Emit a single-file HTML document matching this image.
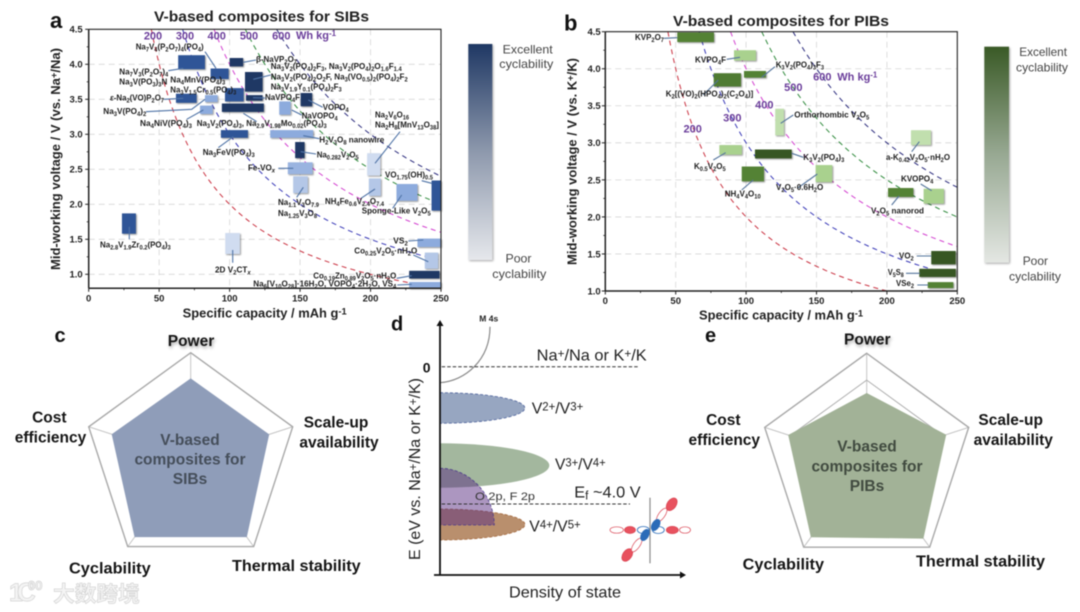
<!DOCTYPE html>
<html lang="en">
<head>
<meta charset="utf-8">
<title>V-based composites for SIBs and PIBs</title>
<style>
html,body{margin:0;padding:0;background:#fff;width:1080px;height:612px;overflow:hidden}
svg{display:block;font-family:"Liberation Sans",sans-serif}
#root{filter:blur(.4px)}
.l{font-size:8.5px;font-weight:700;fill:#1c1c1c}
.s{font-size:72%;baseline-shift:-1.6px}
.u{font-size:72%;baseline-shift:3px}
.tick{font-size:9.5px;font-weight:700;fill:#222}
.axt{font-size:12.5px;font-weight:700;fill:#222}
.title{font-size:15px;font-weight:700;fill:#222}
.pl{font-size:22px;font-weight:700;fill:#111}
.pl2{font-size:20px;font-weight:700;fill:#111}
.e{font-size:11px;font-weight:700;fill:#6a3d9a}
.cb{font-size:12px;fill:#444}
.rl{font-size:15.5px;font-weight:700;fill:#151515}
.rc{font-size:15.5px;font-weight:700;fill:#454e5a;text-anchor:middle}
.rc2{font-size:15.5px;font-weight:700;fill:#414b40;text-anchor:middle}
.d{font-size:16px;fill:#222}
.ls{stroke:#4f73a6;stroke-width:1.1;fill:none}
.lg{stroke:#54749c;stroke-width:1.1;fill:none}
</style>
</head>
<body>
<svg id="root" xmlns="http://www.w3.org/2000/svg" width="1080" height="612" viewBox="0 0 1080 612">
<defs>
<linearGradient id="gradBlue" x1="0" y1="0" x2="0" y2="1"><stop offset="0" stop-color="#1f3864"/><stop offset=".5" stop-color="#8e99ad"/><stop offset="1" stop-color="#e6e8ec"/></linearGradient>
<linearGradient id="gradGreen" x1="0" y1="0" x2="0" y2="1"><stop offset="0" stop-color="#3a5a26"/><stop offset=".5" stop-color="#98a993"/><stop offset="1" stop-color="#e4e7e3"/></linearGradient>
<clipPath id="clipA"><rect x="88.7" y="29.3" width="352.3" height="259"/></clipPath>
<clipPath id="clipB"><rect x="605.3" y="31.7" width="352" height="259.3"/></clipPath>
</defs>

<!-- Panel a -->
<g id="panel-a">
<text class="pl" x="50" y="28">a</text>
<text class="title" x="154" y="21.7" textLength="215" lengthAdjust="spacingAndGlyphs">V-based composites for SIBs</text>
<g id="sib-grid"></g>
<g id="sib-curves" clip-path="url(#clipA)"></g>
<g id="sib-bars"></g>
<g id="sib-axes"></g>
<g class="ls">
<path d="M205 51.7L216 68.3M168.3 70.7L183.3 68.3M243.3 62.3L256 60M253.3 79.3L270.7 75M253 97.7L265 98M164 99.3L183.3 98.3M146 111.7L191.7 109.3L205 99.3M186.7 119.3L203.3 110M243.3 113.3L256.7 121.7M218.3 147.7L233.3 136.7M308.3 100L322.7 107.3M291.7 110L301.7 115M303.3 135.7L319.3 138.7M300.7 151.7L316 154M375 163.3L400 131.7M421.7 180.7L431.7 183.3M278.3 168.3L293.3 168.3M296.7 197.3L303.3 187.3M361 198.3L375 189M392.7 208.3L401.7 195M408.3 241L423.3 240M413.3 255L428.3 261.7M396.7 278.3L411.7 275.7M397.3 285L411.7 284.3M129.3 226.7L129.3 239.3M232.7 250L232.7 262.7"/>
</g>
<g>
<text class="e" x="153" y="39.3" text-anchor="middle">200</text>
<text class="e" x="185" y="39.3" text-anchor="middle">300</text>
<text class="e" x="216.7" y="39.3" text-anchor="middle">400</text>
<text class="e" x="249" y="39.3" text-anchor="middle">500</text>
<text class="e" x="281.3" y="39.3" text-anchor="middle">600</text>
<text class="e" x="296" y="38.8">Wh kg<tspan class="u">-1</tspan></text>
</g>
<g>
<text class="l" x="135.7" y="49.3" textLength="68" lengthAdjust="spacingAndGlyphs">Na<tspan class="s">7</tspan>V<tspan class="s">4</tspan>(P<tspan class="s">2</tspan>O<tspan class="s">7</tspan>)<tspan class="s">4</tspan>(PO<tspan class="s">4</tspan>)</text>
<text class="l" x="119.3" y="74.7" textLength="49" lengthAdjust="spacingAndGlyphs">Na<tspan class="s">7</tspan>V<tspan class="s">3</tspan>(P<tspan class="s">2</tspan>O<tspan class="s">7</tspan>)<tspan class="s">4</tspan></text>
<text class="l" x="119.3" y="84.7" textLength="48" lengthAdjust="spacingAndGlyphs">Na<tspan class="s">3</tspan>V(PO<tspan class="s">3</tspan>)<tspan class="s">3</tspan>N</text>
<text class="l" x="170.3" y="82.7" textLength="55" lengthAdjust="spacingAndGlyphs">Na<tspan class="s">4</tspan>MnV(PO<tspan class="s">4</tspan>)<tspan class="s">3</tspan></text>
<text class="l" x="256" y="62" textLength="41" lengthAdjust="spacingAndGlyphs">β-NaVP<tspan class="s">2</tspan>O<tspan class="s">7</tspan></text>
<text class="l" x="270.7" y="69" textLength="131" lengthAdjust="spacingAndGlyphs">Na<tspan class="s">3</tspan>V<tspan class="s">2</tspan>(PO<tspan class="s">4</tspan>)<tspan class="s">2</tspan>F<tspan class="s">3</tspan>, Na<tspan class="s">3</tspan>V<tspan class="s">2</tspan>(PO<tspan class="s">4</tspan>)<tspan class="s">2</tspan>O<tspan class="s">1.6</tspan>F<tspan class="s">1.4</tspan></text>
<text class="l" x="270.7" y="79.7" textLength="137" lengthAdjust="spacingAndGlyphs">Na<tspan class="s">3</tspan>V<tspan class="s">2</tspan>(PO<tspan class="s">4</tspan>)<tspan class="s">2</tspan>O<tspan class="s">2</tspan>F, Na<tspan class="s">3</tspan>(VO<tspan class="s">0.5</tspan>)<tspan class="s">2</tspan>(PO<tspan class="s">4</tspan>)<tspan class="s">2</tspan>F<tspan class="s">2</tspan></text>
<text class="l" x="270.7" y="89.5" textLength="71" lengthAdjust="spacingAndGlyphs">Na<tspan class="s">3</tspan>V<tspan class="s">1.9</tspan>Y<tspan class="s">0.1</tspan>(PO<tspan class="s">4</tspan>)<tspan class="s">2</tspan>F<tspan class="s">3</tspan></text>
<text class="l" x="265" y="100" textLength="35" lengthAdjust="spacingAndGlyphs">NaVPO<tspan class="s">4</tspan>F</text>
<text class="l" x="170.3" y="92.7" textLength="66" lengthAdjust="spacingAndGlyphs">Na<tspan class="s">3</tspan>V<tspan class="s">1.5</tspan>Cr<tspan class="s">0.5</tspan>(PO<tspan class="s">4</tspan>)<tspan class="s">3</tspan></text>
<text class="l" x="110" y="100.7" textLength="54" lengthAdjust="spacingAndGlyphs"><tspan font-style="italic">ε</tspan>-Na<tspan class="s">2</tspan>(VO)P<tspan class="s">2</tspan>O<tspan class="s">7</tspan></text>
<text class="l" x="103.3" y="114" textLength="43" lengthAdjust="spacingAndGlyphs">Na<tspan class="s">3</tspan>V(PO<tspan class="s">4</tspan>)<tspan class="s">2</tspan></text>
<text class="l" x="140" y="126" textLength="52" lengthAdjust="spacingAndGlyphs">Na<tspan class="s">4</tspan>NiV(PO<tspan class="s">4</tspan>)<tspan class="s">3</tspan></text>
<text class="l" x="196.7" y="126" textLength="130" lengthAdjust="spacingAndGlyphs">Na<tspan class="s">3</tspan>V<tspan class="s">2</tspan>(PO<tspan class="s">4</tspan>)<tspan class="s">3</tspan>, Na<tspan class="s">2.9</tspan>V<tspan class="s">1.98</tspan>Mo<tspan class="s">0.02</tspan>(PO<tspan class="s">4</tspan>)<tspan class="s">3</tspan></text>
<text class="l" x="202.7" y="155" textLength="52" lengthAdjust="spacingAndGlyphs">Na<tspan class="s">3</tspan>FeV(PO<tspan class="s">4</tspan>)<tspan class="s">3</tspan></text>
<text class="l" x="322.7" y="110" textLength="26" lengthAdjust="spacingAndGlyphs">VOPO<tspan class="s">4</tspan></text>
<text class="l" x="301.7" y="118.3" textLength="36" lengthAdjust="spacingAndGlyphs">NaVOPO<tspan class="s">4</tspan></text>
<text class="l" x="319.3" y="142.3" textLength="65" lengthAdjust="spacingAndGlyphs">H<tspan class="s">2</tspan>V<tspan class="s">3</tspan>O<tspan class="s">8</tspan> nanowire</text>
<text class="l" x="316.7" y="157.3" textLength="42" lengthAdjust="spacingAndGlyphs">Na<tspan class="s">0.282</tspan>V<tspan class="s">2</tspan>O<tspan class="s">5</tspan></text>
<text class="l" x="375" y="117.3" textLength="34" lengthAdjust="spacingAndGlyphs">Na<tspan class="s">2</tspan>V<tspan class="s">6</tspan>O<tspan class="s">16</tspan></text>
<text class="l" x="375" y="127.3" textLength="64" lengthAdjust="spacingAndGlyphs">Na<tspan class="s">2</tspan>H<tspan class="s">8</tspan>[MnV<tspan class="s">13</tspan>O<tspan class="s">38</tspan>]</text>
<text class="l" x="385" y="177.3" textLength="48" lengthAdjust="spacingAndGlyphs">VO<tspan class="s">1.75</tspan>(OH)<tspan class="s">0.5</tspan></text>
<text class="l" x="248" y="170.7" textLength="27" lengthAdjust="spacingAndGlyphs">Fe-VO<tspan class="s" font-style="italic">x</tspan></text>
<text class="l" x="278" y="205" textLength="41" lengthAdjust="spacingAndGlyphs">Na<tspan class="s">1.1</tspan>V<tspan class="s">3</tspan>O<tspan class="s">7.9</tspan></text>
<text class="l" x="278" y="216" textLength="39" lengthAdjust="spacingAndGlyphs">Na<tspan class="s">1.25</tspan>V<tspan class="s">3</tspan>O<tspan class="s">8</tspan></text>
<text class="l" x="325" y="204" textLength="59" lengthAdjust="spacingAndGlyphs">NH<tspan class="s">4</tspan>Fe<tspan class="s">0.6</tspan>V<tspan class="s">2.4</tspan>O<tspan class="s">7.4</tspan></text>
<text class="l" x="361.7" y="213.7" textLength="69" lengthAdjust="spacingAndGlyphs">Sponge-Like V<tspan class="s">2</tspan>O<tspan class="s">5</tspan></text>
<text class="l" x="393.3" y="243.3" textLength="14.5" lengthAdjust="spacingAndGlyphs">VS<tspan class="s">2</tspan></text>
<text class="l" x="354.3" y="253.3" textLength="63" lengthAdjust="spacingAndGlyphs">Co<tspan class="s">0.25</tspan>V<tspan class="s">2</tspan>O<tspan class="s">5</tspan>·nH<tspan class="s">2</tspan>O</text>
<text class="l" x="313.3" y="278.3" textLength="83" lengthAdjust="spacingAndGlyphs">Co<tspan class="s">0.19</tspan>Zn<tspan class="s">0.89</tspan>V<tspan class="s">2</tspan>O<tspan class="s">5</tspan>·nH<tspan class="s">2</tspan>O</text>
<text class="l" x="253.3" y="286.7" textLength="143" lengthAdjust="spacingAndGlyphs">Na<tspan class="s">6</tspan>[V<tspan class="s">10</tspan>O<tspan class="s">28</tspan>]·16H<tspan class="s">2</tspan>O, VOPO<tspan class="s">4</tspan>·2H<tspan class="s">2</tspan>O, VS<tspan class="s">4</tspan></text>
<text class="l" x="100" y="247.3" textLength="70.7" lengthAdjust="spacingAndGlyphs">Na<tspan class="s">2.8</tspan>V<tspan class="s">1.9</tspan>Zr<tspan class="s">0.2</tspan>(PO<tspan class="s">4</tspan>)<tspan class="s">3</tspan></text>
<text class="l" x="215" y="272.7" textLength="35.7" lengthAdjust="spacingAndGlyphs">2D V<tspan class="s">2</tspan>CT<tspan class="s" font-style="italic">x</tspan></text>
</g>
<text class="axt" transform="translate(60,270) rotate(-90)" textLength="222" lengthAdjust="spacingAndGlyphs">Mid-working voltage / V (vs. Na<tspan class="u">+</tspan>/Na)</text>
<text class="axt" x="182.7" y="317.3" textLength="164" lengthAdjust="spacingAndGlyphs">Specific capacity / mAh g<tspan class="u">-1</tspan></text>
<rect x="468.3" y="44" width="24" height="216" fill="url(#gradBlue)" style="filter:drop-shadow(1px 1px 1px rgba(0,0,0,.35))"/>
<text class="cb" x="502.7" y="53.3" textLength="50" lengthAdjust="spacingAndGlyphs">Excellent</text>
<text class="cb" x="499.3" y="68" textLength="54" lengthAdjust="spacingAndGlyphs">cyclability</text>
<text class="cb" x="505.5" y="262.7" textLength="26" lengthAdjust="spacingAndGlyphs">Poor</text>
<text class="cb" x="492.3" y="278" textLength="54" lengthAdjust="spacingAndGlyphs">cyclability</text>
</g>

<!-- Panel b -->
<g id="panel-b">
<text class="pl" x="564" y="30.7">b</text>
<text class="title" x="673" y="26" textLength="216" lengthAdjust="spacingAndGlyphs">V-based composites for PIBs</text>
<g id="pib-grid"></g>
<g id="pib-curves" clip-path="url(#clipB)"></g>
<g id="pib-bars"></g>
<g id="pib-axes"></g>
<g class="lg">
<path d="M664 38.3L677.3 37.7M726.7 59.3L740 57.3M761.7 77.3L775 66.7M703.3 95L718.3 80M780.7 123.3L793.3 115M713.3 160L725.7 152.7M791.7 153.3L803.3 157.3M741.7 190L753.3 180M797.3 188.3L817.3 174M911.7 151.7L919.3 141.7M920.7 184L931.7 190.7M891.7 205L899 196M916.7 256L931.3 256M906 273.3L920 273.3M917.3 285L928.3 285"/>
</g>
<g>
<text class="e" x="692.7" y="132.3" text-anchor="middle">200</text>
<text class="e" x="732.3" y="121.7" text-anchor="middle">300</text>
<text class="e" x="764.3" y="108.3" text-anchor="middle">400</text>
<text class="e" x="793.3" y="91" text-anchor="middle">500</text>
<text class="e" x="822.3" y="80.7" text-anchor="middle">600</text>
<text class="e" x="837.3" y="80.7">Wh kg<tspan class="u">-1</tspan></text>
</g>
<g>
<text class="l" x="635" y="40" textLength="29" lengthAdjust="spacingAndGlyphs">KVP<tspan class="s">2</tspan>O<tspan class="s">7</tspan></text>
<text class="l" x="695" y="62.3" textLength="31" lengthAdjust="spacingAndGlyphs">KVPO<tspan class="s">4</tspan>F</text>
<text class="l" x="775.7" y="67.7" textLength="48.3" lengthAdjust="spacingAndGlyphs">K<tspan class="s">3</tspan>V<tspan class="s">2</tspan>(PO<tspan class="s">4</tspan>)<tspan class="s">3</tspan>F<tspan class="s">3</tspan></text>
<text class="l" x="665.7" y="96.7" textLength="87.6" lengthAdjust="spacingAndGlyphs">K<tspan class="s">2</tspan>[(VO)<tspan class="s">2</tspan>(HPO<tspan class="s">4</tspan>)<tspan class="s">2</tspan>(C<tspan class="s">2</tspan>O<tspan class="s">4</tspan>)]</text>
<text class="l" x="794.3" y="117.3" textLength="75" lengthAdjust="spacingAndGlyphs">Orthorhombic V<tspan class="s">2</tspan>O<tspan class="s">5</tspan></text>
<text class="l" x="694" y="169" textLength="31.7" lengthAdjust="spacingAndGlyphs">K<tspan class="s">0.5</tspan>V<tspan class="s">2</tspan>O<tspan class="s">5</tspan></text>
<text class="l" x="803.3" y="160" textLength="41" lengthAdjust="spacingAndGlyphs">K<tspan class="s">3</tspan>V<tspan class="s">2</tspan>(PO<tspan class="s">4</tspan>)<tspan class="s">3</tspan></text>
<text class="l" x="724.7" y="196.7" textLength="36" lengthAdjust="spacingAndGlyphs">NH<tspan class="s">4</tspan>V<tspan class="s">4</tspan>O<tspan class="s">10</tspan></text>
<text class="l" x="776" y="190" textLength="47.3" lengthAdjust="spacingAndGlyphs">V<tspan class="s">2</tspan>O<tspan class="s">5</tspan>·0.6H<tspan class="s">2</tspan>O</text>
<text class="l" x="886" y="160" textLength="64" lengthAdjust="spacingAndGlyphs">a-K<tspan class="s">0.42</tspan>V<tspan class="s">2</tspan>O<tspan class="s">5</tspan>·nH<tspan class="s">2</tspan>O</text>
<text class="l" x="901" y="181.7" textLength="32.3" lengthAdjust="spacingAndGlyphs">KVOPO<tspan class="s">4</tspan></text>
<text class="l" x="871" y="213.3" textLength="53" lengthAdjust="spacingAndGlyphs">V<tspan class="s">2</tspan>O<tspan class="s">5</tspan> nanorod</text>
<text class="l" x="899" y="258.3" textLength="14.7" lengthAdjust="spacingAndGlyphs">VO<tspan class="s">2</tspan></text>
<text class="l" x="887.7" y="275" textLength="16" lengthAdjust="spacingAndGlyphs">V<tspan class="s">5</tspan>S<tspan class="s">8</tspan></text>
<text class="l" x="896" y="286" textLength="18" lengthAdjust="spacingAndGlyphs">VSe<tspan class="s">2</tspan></text>
</g>
<text class="axt" transform="translate(576.7,265) rotate(-90)" textLength="207" lengthAdjust="spacingAndGlyphs">Mid-working voltage / V (vs. K<tspan class="u">+</tspan>/K)</text>
<text class="axt" x="699" y="319.3" textLength="164" lengthAdjust="spacingAndGlyphs">Specific capacity / mAh g<tspan class="u">-1</tspan></text>
<rect x="984.3" y="46.7" width="24.7" height="216" fill="url(#gradGreen)" style="filter:drop-shadow(1px 1px 1px rgba(0,0,0,.35))"/>
<text class="cb" x="1019.3" y="56" textLength="47.7" lengthAdjust="spacingAndGlyphs">Excellent</text>
<text class="cb" x="1016" y="71.3" textLength="52" lengthAdjust="spacingAndGlyphs">cyclability</text>
<text class="cb" x="1022.7" y="265" textLength="25.3" lengthAdjust="spacingAndGlyphs">Poor</text>
<text class="cb" x="1009" y="280.7" textLength="52" lengthAdjust="spacingAndGlyphs">cyclability</text>
</g>

<!-- Panel c -->
<g id="panel-c">
<text class="pl2" x="54.5" y="342">c</text>
<g id="sib-radar"></g>
<text class="rl" x="191" y="346" text-anchor="middle" style="text-shadow:1px 2px 3px rgba(0,0,0,.35)">Power</text>
<text class="rl" x="49.3" y="422.7" text-anchor="middle">Cost</text>
<text class="rl" x="50.5" y="442.7" text-anchor="middle">efficiency</text>
<text class="rl" x="336" y="427.3" text-anchor="middle">Scale-up</text>
<text class="rl" x="339" y="447.3" text-anchor="middle">availability</text>
<text class="rl" x="232" y="571" textLength="128.7" lengthAdjust="spacingAndGlyphs">Thermal stability</text>
<text class="rl" x="69" y="573.3" textLength="81.7" lengthAdjust="spacingAndGlyphs">Cyclability</text>
<text class="rc" x="190" y="445">V-based</text>
<text class="rc" x="190" y="464.3">composites for</text>
<text class="rc" x="190" y="484">SIBs</text>
</g>

<!-- Panel d -->
<g id="panel-d">
<text class="pl2" x="391" y="330.7">d</text>
<path d="M440 392.7A85 15.3 0 0 1 440 423.3Z" fill="#97a6c1" stroke="#4a5f9a" stroke-width=".8" stroke-dasharray="3 2"/>
<path d="M440 443.3A109.3 22.2 0 0 1 440 487.7Z" fill="#a3b79e"/>
<path d="M440 509A85 15.5 0 0 1 440 540Z" fill="#b98f6d" stroke="#a5683c" stroke-width=".8" stroke-dasharray="3 2"/>
<path d="M440 468.3C470 468.3 494 495 494.3 525L440 525Z" fill="#5a2d82" fill-opacity=".5" stroke="#4a3a8a" stroke-width=".8" stroke-dasharray="3 2"/>
<path d="M440 382.7C465 381 490 360 490 326.7" fill="none" stroke="#8a8a8a" stroke-width="1.2"/>
<line x1="441.7" y1="366.7" x2="638.3" y2="366.7" stroke="#333" stroke-width="1" stroke-dasharray="3.5 2"/>
<line x1="441.7" y1="504" x2="630" y2="504" stroke="#333" stroke-width="1" stroke-dasharray="3.5 2"/>
<line x1="440" y1="325" x2="440" y2="575" stroke="#111" stroke-width="1.8"/>
<polygon points="436.5,326 440,320 443.5,326" fill="#111"/>
<line x1="434" y1="575" x2="681" y2="575" stroke="#111" stroke-width="1.8"/>
<polygon points="680,571.5 686,575 680,578.5" fill="#111"/>
<text x="479.3" y="321.7" font-size="8.5" font-weight="700" fill="#222">M 4s</text>
<text x="426.7" y="372.7" font-size="14" font-weight="700" fill="#111" text-anchor="middle">0</text>
<text class="d" x="536.7" y="360.7" textLength="110" lengthAdjust="spacingAndGlyphs">Na<tspan class="u">+</tspan>/Na or K<tspan class="u">+</tspan>/K</text>
<text class="d" x="531.7" y="413.3" textLength="51.6" lengthAdjust="spacingAndGlyphs">V<tspan class="u">2+</tspan>/V<tspan class="u">3+</tspan></text>
<text class="d" x="555" y="469.3" textLength="50.7" lengthAdjust="spacingAndGlyphs">V<tspan class="u">3+</tspan>/V<tspan class="u">4+</tspan></text>
<text class="d" x="529.3" y="531.7" textLength="51.4" lengthAdjust="spacingAndGlyphs">V<tspan class="u">4+</tspan>/V<tspan class="u">5+</tspan></text>
<text x="475" y="500" font-size="11" fill="#333" textLength="60" lengthAdjust="spacingAndGlyphs">O 2p, F 2p</text>
<text class="d" x="574.3" y="497.3" textLength="66.4" lengthAdjust="spacingAndGlyphs">E<tspan class="s">f</tspan> ~4.0 V</text>
<text class="d" transform="translate(420,560) rotate(-90)" textLength="182" lengthAdjust="spacingAndGlyphs">E (eV vs. Na<tspan class="u">+</tspan>/Na or K<tspan class="u">+</tspan>/K)</text>
<text class="d" x="509" y="597.3" textLength="112" lengthAdjust="spacingAndGlyphs" fill="#333">Density of state</text>
<g>
<line x1="650" y1="497.7" x2="650" y2="563.3" stroke="#8a8a8a" stroke-width="1.2"/>
<g fill="#e8525f" stroke="#d94452" stroke-width=".7">
<ellipse cx="630" cy="530" rx="5.5" ry="3.5"/>
<ellipse cx="672.3" cy="530" rx="6" ry="3.7"/>
<ellipse cx="671.7" cy="504.3" rx="7" ry="4.5" transform="rotate(-55 671.7 504.3)"/>
<ellipse cx="627.3" cy="555" rx="7" ry="4.5" transform="rotate(-55 627.3 555)"/>
</g>
<g fill="#fff" stroke="#d94452" stroke-width=".7">
<ellipse cx="616.7" cy="530" rx="6.7" ry="3.2"/>
<ellipse cx="685" cy="530" rx="5.5" ry="3.2"/>
<ellipse cx="661.7" cy="515" rx="8" ry="3.2" transform="rotate(-55 661.7 515)"/>
<ellipse cx="636.7" cy="545" rx="8" ry="3.2" transform="rotate(-55 636.7 545)"/>
</g>
<g fill="#fff" stroke="#2b6cb8" stroke-width=".8">
<ellipse cx="643.3" cy="530" rx="6" ry="3.5"/>
<ellipse cx="658.3" cy="530" rx="6" ry="3.5"/>
</g>
<g fill="#2b6cb8">
<ellipse cx="655.7" cy="525" rx="6.5" ry="4" transform="rotate(-60 655.7 525)"/>
<ellipse cx="645" cy="535" rx="6.5" ry="4" transform="rotate(-60 645 535)"/>
</g>
</g>
</g>

<!-- Panel e -->
<g id="panel-e">
<text class="pl2" x="705" y="342">e</text>
<g id="pib-radar"></g>
<text class="rl" x="867.3" y="344.3" text-anchor="middle" style="text-shadow:1px 2px 3px rgba(0,0,0,.35)">Power</text>
<text class="rl" x="723.3" y="425" text-anchor="middle">Cost</text>
<text class="rl" x="724.3" y="445" text-anchor="middle">efficiency</text>
<text class="rl" x="1010.7" y="425" text-anchor="middle">Scale-up</text>
<text class="rl" x="1013.3" y="445" text-anchor="middle">availability</text>
<text class="rl" x="916" y="566.7" textLength="129" lengthAdjust="spacingAndGlyphs">Thermal stability</text>
<text class="rl" x="742.7" y="569.3" textLength="81.3" lengthAdjust="spacingAndGlyphs">Cyclability</text>
<text class="rc2" x="867" y="451.7">V-based</text>
<text class="rc2" x="867" y="471.7">composites for</text>
<text class="rc2" x="867" y="491">PIBs</text>
</g>

<!-- Watermark -->
<g fill="#f4f4f4" stroke="#d4d4d4" stroke-width=".7">
<text x="9" y="601" font-size="25" font-weight="700">1</text>
<text x="17" y="601" font-size="26" font-weight="700">C</text>
<text x="28" y="590" font-size="13" font-weight="700">00</text>
<text x="53" y="601.5" font-size="21.7" font-family="'Liberation Sans','Noto Sans CJK SC',sans-serif" font-weight="700">大数跨境</text>
</g>
</svg>

<script>
// ---------- Panel a data (specific capacity mAh/g, voltage V, cyclability 0-1) ----------
const sibCategories = ['Na7V4(P2O7)4(PO4)','Na4MnV(PO4)3','beta-NaVP2O7','Na3V2(PO4)2F3','Na3V1.5Cr0.5(PO4)3','NaVPO4F','epsilon-Na2(VO)P2O7','Na3V(PO4)2','Na4NiV(PO4)3','Na3V2(PO4)3','Na3FeV(PO4)3','NaVOPO4','H2V3O8 nanowire','VOPO4','Na0.282V2O5','Fe-VOx','Na1.1V3O7.9','Na2V6O16','NH4Fe0.6V2.4O7.4','Sponge-Like V2O5','VO1.75(OH)0.5','VS2','Co0.25V2O5','Co0.19Zn0.89V2O5','Na6[V10O28]','Na2.8V1.9Zr0.2(PO4)3','2D V2CTx'];
const sibCapacityMin = [63.5,86.5,100,110.9,96.7,111.6,61.9,82.5,79,94.5,93.8,135.2,128.8,150.4,146.5,141.3,145.1,197.6,198.8,218.4,243.3,233.3,238.5,227.4,227.4,23.6,96.9];
const sibCapacityMax = [82.5,99.3,109.6,123.4,110,123.4,76.6,91.5,88,124.3,113,143.3,159.3,158.6,153.2,158.9,155.5,207,207.3,233.3,250,250,248,249,250,33.5,107.3];
const sibVoltageMin = [3.93,3.79,3.97,3.61,3.47,3.48,3.45,3.46,3.29,3.32,2.95,3.28,2.95,3.4,2.66,2.43,2.16,2.41,2.12,2.05,1.91,1.39,1.08,0.94,0.8,1.58,1.29];
const sibVoltageMax = [4.13,3.94,4.09,3.89,3.66,3.56,3.58,3.56,3.41,3.44,3.06,3.47,3.06,3.59,2.89,2.6,2.4,2.73,2.37,2.29,2.34,1.51,1.31,1.05,0.89,1.87,1.59];
const sibCyclability = [0.75,0.75,1,1,0.75,1,0.75,0.5,0.5,1,0.75,0.5,0.5,1,1,0.45,0.35,0.12,0.35,0.5,0.75,0.5,0.35,1,0.5,0.75,0.12];

// ---------- Panel b data ----------
const pibCategories = ['KVP2O7','KVPO4F','K3V2(PO4)3F3','K2[(VO)2(HPO4)2(C2O4)]','Orthorhombic V2O5','K0.5V2O5','K3V2(PO4)3','NH4V4O10','V2O5 0.6H2O','a-K0.42V2O5','KVOPO4','V2O5 nanorod','VO2','V5S8','VSe2'];
const pibCapacityMin = [51.1,91.4,98.5,77,120.7,81,106.3,96.9,149.4,217.1,226.1,200.8,231.5,223,229];
const pibCapacityMax = [77.2,107,114.1,96.4,126.9,97,132.4,112.7,161.2,231.3,240.5,218.8,248.9,249,247.2];
const pibVoltageMin = [4.36,4.11,3.88,3.76,3.1,2.84,2.79,2.48,2.47,2.97,2.18,2.27,1.36,1.19,1.04];
const pibVoltageMax = [4.49,4.25,3.97,3.94,3.46,2.97,2.91,2.68,2.7,3.17,2.38,2.39,1.54,1.3,1.12];
const pibCyclability = [0.7,0.35,0.7,0.75,0.2,0.35,1,0.7,0.35,0.2,0.35,0.7,1,1,0.7];

// ---------- Shared axis data ----------
const energyLevels = [200,300,400,500,600];
const xTickValues = [0,50,100,150,200,250];
const xMinorValues = [25,75,125,175,225];
const sibYTickValues = [1,1.5,2,2.5,3,3.5,4,4.5];
const sibYMinorValues = [1.25,1.75,2.25,2.75,3.25,3.75,4.25];
const pibYTickValues = [1,1.5,2,2.5,3,3.5,4,4.5];
const pibYMinorValues = [1.25,1.75,2.25,2.75,3.25,3.75,4.25];

// ---------- Radar data (outer ring = 1), order: power, scale-up, thermal, cyclability, cost ----------
const radarAxes = ['power','scale-up','thermal-stability','cyclability','cost-efficiency'];
const sibRadarValues = [0.76,0.77,0.89,0.89,0.775];
const pibRadarValues = [0.63,0.78,0.9,0.885,0.77];

const NS = 'http://www.w3.org/2000/svg';
const curveColors = ['#c9303f','#3535b5','#d23fcf','#2f8a3c','#2a2a7c'];
const sibStops = [[0,'#dfe7f5'],[0.35,'#b4c7e7'],[0.5,'#8dabdd'],[0.75,'#2f5597'],[1,'#1f3864']];
const pibStops = [[0,'#d4e8c6'],[0.2,'#c1dfae'],[0.35,'#a9d18e'],[0.7,'#548235'],[1,'#375623']];

function linear(d0, d1, r0, r1) { return v => r0 + (v - d0) * (r1 - r0) / (d1 - d0); }
function make(tag, attrs) {
  const el = document.createElementNS(NS, tag);
  for (const k in attrs) el.setAttribute(k, attrs[k]);
  return el;
}
function slug(s) { return s.toLowerCase().replace(/[^a-z0-9]+/g, '-').replace(/^-|-$/g, ''); }
function hex(c) { return [1,3,5].map(i => parseInt(c.substr(i,2),16)); }
function scoreColor(stops, t) {
  for (let i = 1; i < stops.length; i++) {
    if (t <= stops[i][0]) {
      const f = (t - stops[i-1][0]) / (stops[i][0] - stops[i-1][0]);
      const a = hex(stops[i-1][1]), b = hex(stops[i][1]);
      return 'rgb(' + a.map((v,j) => Math.round(v + (b[j]-v)*f)).join(',') + ')';
    }
  }
  return stops[stops.length-1][1];
}

function drawChart(prefix, xS, yS, xDom, yDom, yTicks, yMinor, cats, cMin, cMax, vMin, vMax, score, stops, xLabelY, yLabelX) {
  const gridG = document.getElementById(prefix + '-grid');
  const curveG = document.getElementById(prefix + '-curves');
  const barG = document.getElementById(prefix + '-bars');
  const axisG = document.getElementById(prefix + '-axes');
  const left = xS(xDom[0]), right = xS(xDom[1]), top = yS(yDom[1]), bottom = yS(yDom[0]);

  xTickValues.slice(1, -1).forEach(t => {
    const g = make('line', {x1:xS(t), x2:xS(t), y1:top, y2:bottom, stroke:'#d6d6d6', 'stroke-width':.8, 'stroke-dasharray':'6 4'});
    
    
    gridG.appendChild(g);
  });
  yTicks.filter(t => t < yDom[1] && t > yDom[0]).forEach(t => {
    const g = make('line', {x1:left, x2:right, y1:yS(t), y2:yS(t), stroke:'#d6d6d6', 'stroke-width':.8, 'stroke-dasharray':'6 4'});
    
    
    gridG.appendChild(g);
  });

  energyLevels.forEach((E, k) => {
    let d = '';
    for (let c = E / yDom[1]; c <= xDom[1]; c += 2) {
      d += (d ? 'L' : 'M') + xS(c).toFixed(1) + ' ' + yS(E / c).toFixed(1);
    }
    d += 'L' + xS(xDom[1]).toFixed(1) + ' ' + yS(E / xDom[1]).toFixed(1);
    const p = make('path', {d:d, fill:'none', stroke:curveColors[k], 'stroke-width':1, 'stroke-dasharray':'5 4'});
    
    
    curveG.appendChild(p);
  });

  cats.forEach((name, i) => {
    const r = make('rect', {
      x: xS(cMin[i]), y: yS(vMax[i]),
      width: xS(cMax[i]) - xS(cMin[i]), height: yS(vMin[i]) - yS(vMax[i]),
      fill: scoreColor(stops, score[i])
    });
    r.style.filter = 'drop-shadow(1px 1px .8px rgba(0,0,0,.4))';
    
    
    barG.appendChild(r);
  });

  const frame = make('path', {d:'M'+left+' '+top+'H'+right+'V'+bottom, fill:'none', stroke:'#222', 'stroke-width':1.1});
  
  
  axisG.appendChild(frame);
  const yAxis = make('line', {x1:left, x2:left, y1:top, y2:bottom, stroke:'#222', 'stroke-width':1.5});
  
  
  axisG.appendChild(yAxis);
  const xAxis = make('line', {x1:left, x2:right, y1:bottom, y2:bottom, stroke:'#222', 'stroke-width':1.5});
  
  
  axisG.appendChild(xAxis);

  xTickValues.forEach(t => {
    const m = make('line', {x1:xS(t), x2:xS(t), y1:bottom, y2:bottom + 3.5, stroke:'#222', 'stroke-width':1});
    
    
    axisG.appendChild(m);
    const lab = make('text', {x:xS(t), y:xLabelY, 'text-anchor':'middle', class:'tick'});
    lab.textContent = t;
    
    
    axisG.appendChild(lab);
  });
  xMinorValues.forEach(t => {
    const m = make('line', {x1:xS(t), x2:xS(t), y1:bottom, y2:bottom + 2, stroke:'#222', 'stroke-width':.8});
    
    
    axisG.appendChild(m);
  });
  yTicks.forEach(t => {
    const m = make('line', {x1:left - 3.5, x2:left, y1:yS(t), y2:yS(t), stroke:'#222', 'stroke-width':1});
    
    
    axisG.appendChild(m);
    const lab = make('text', {x:yLabelX, y:yS(t) + 3.4, 'text-anchor':'end', class:'tick'});
    lab.textContent = t.toFixed(1);
    
    
    axisG.appendChild(lab);
  });
  yMinor.forEach(t => {
    const m = make('line', {x1:left - 2, x2:left, y1:yS(t), y2:yS(t), stroke:'#222', 'stroke-width':.8});
    
    
    axisG.appendChild(m);
  });
}

const sibX = linear(0, 250, 88.7, 441);
const sibY = linear(4.5, 1, 29.3, 274.3);
const pibX = linear(0, 250, 605.3, 957.3);
const pibY = linear(4.5, 1, 31.7, 291);
drawChart('sib', sibX, sibY, [0,250], [0.8,4.5], sibYTickValues, sibYMinorValues, sibCategories, sibCapacityMin, sibCapacityMax, sibVoltageMin, sibVoltageMax, sibCyclability, sibStops, 301.7, 82.7);
drawChart('pib', pibX, pibY, [0,250], [1,4.5], pibYTickValues, pibYMinorValues, pibCategories, pibCapacityMin, pibCapacityMax, pibVoltageMin, pibVoltageMax, pibCyclability, pibStops, 304, 600.7);

function drawRadar(id, cx, cy, R, values, fill, extraRing) {
  const g = document.getElementById(id);
  const pt = (i, f) => {
    const a = -Math.PI / 2 + i * 2 * Math.PI / 5;
    return [cx + R * f * Math.cos(a), cy + R * f * Math.sin(a)];
  };
  const poly = fn => radarAxes.map((_, i) => pt(i, fn(i)).map(n => n.toFixed(1)).join(',')).join(' ');
  radarAxes.forEach((name, i) => {
    const e = pt(i, 1);
    const s = make('line', {x1:cx, y1:cy, x2:e[0], y2:e[1], stroke:'#c4c4c4', 'stroke-width':1});
    
    
    g.appendChild(s);
  });
  if (extraRing) {
    const ring = make('polygon', {points:poly(() => extraRing), fill:'none', stroke:'#b0b0b0', 'stroke-width':1});
    
    
    g.appendChild(ring);
  }
  const area = make('polygon', {points:poly(i => values[i]), fill:fill});
  
  
  g.appendChild(area);
  const outer = make('polygon', {points:poly(() => 1), fill:'none', stroke:'#a8a8a8', 'stroke-width':1.4});
  
  
  g.appendChild(outer);
}
drawRadar('sib-radar', 190.7, 459.9, 107.2, sibRadarValues, '#8f9db9', 0);
drawRadar('pib-radar', 866.7, 460.5, 107.2, pibRadarValues, '#a2b297', 0.75);
</script>
</body>
</html>
